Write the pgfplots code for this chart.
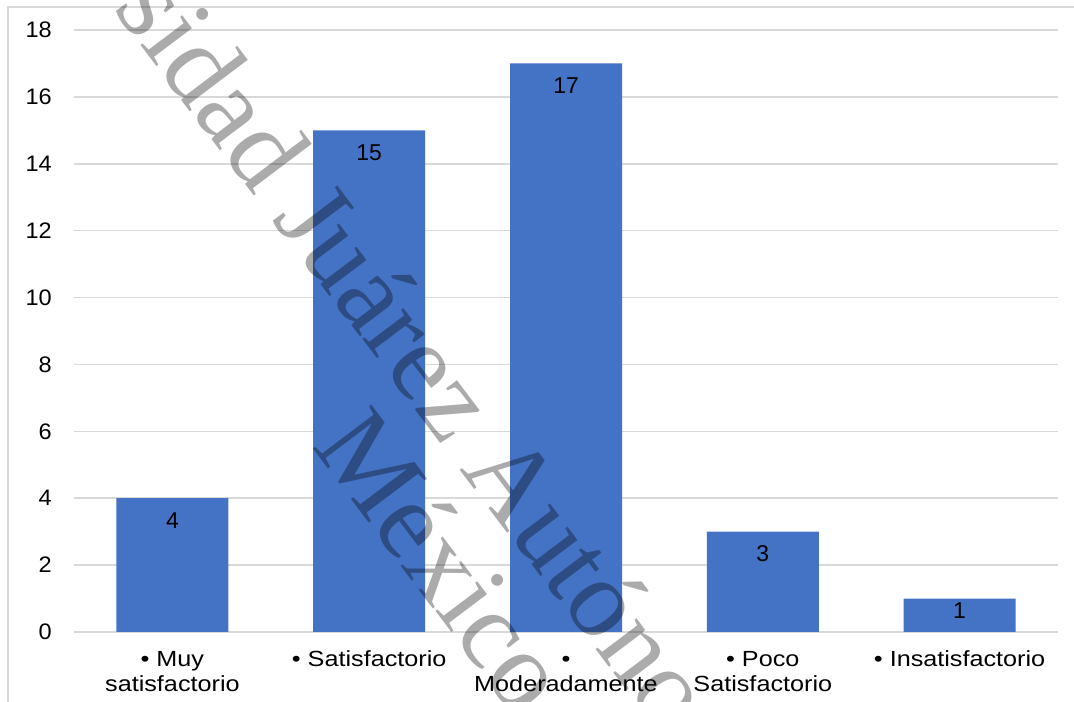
\documentclass[border=0pt]{standalone}
\usepackage{pgfplots}
\pgfplotsset{compat=1.18}
\usepackage{pgfplotstable}
\usepackage{fontspec}
\setmainfont{Liberation Sans}
\newfontfamily\catfont[FakeStretch=1.15]{Liberation Sans}
\newfontfamily\numfont[FakeStretch=1.05]{Liberation Sans}
\newfontfamily\wmfont{Liberation Serif}
\definecolor{barblue}{HTML}{4472C4}
\definecolor{gridgray}{HTML}{D9D9D9}
\pgfplotstableread{
x y s
0 4 22
1 15 22
2 17 22
3 3 22
4 1 12
}\datatable
\begin{document}
\begin{tikzpicture}[x=1bp,y=1bp]
\useasboundingbox (0,0) rectangle (1074,702);
\fill[white] (0,0) rectangle (1074,702);
\draw[gridgray, line width=1.5bp] (8,-5) -- (8,695) -- (1080,695);
\begin{axis}[
  at={(74bp,70bp)}, anchor=south west,
  scale only axis, width=984bp, height=602bp,
  xmin=-0.5, xmax=4.5, ymin=0, ymax=18,
  ytick={0,2,...,18},
  xtick={0,1,2,3,4},
  xticklabels={{\strut• Muy\\satisfactorio},{\strut• Satisfactorio},{\strut•\\Moderadamente},{\strut• Poco\\Satisfactorio},{\strut• Insatisfactorio}},
  axis line style={draw=none},
  major tick length=0pt,
  ymajorgrids,
  major grid style={gridgray, line width=1.5bp},
  /pgf/number format/assume math mode=true,
  xticklabel style={font=\catfont\fontsize{22}{25}\selectfont, text=black, align=center, anchor=north, inner sep=0pt, yshift=-16.5bp},
  yticklabel style={font=\numfont\fontsize{22.5}{25}\selectfont, text=black, anchor=east, inner sep=0pt, xshift=-22bp},
  ybar, bar width=0.569,
  clip=false,
]
\addplot[fill=barblue, draw=none,
  visualization depends on={\thisrow{s} \as \lblshift},
  nodes near coords,
  nodes near coords style={anchor=center, inner sep=0pt, yshift={-\lblshift*1bp}, font=\fontsize{23}{25}\selectfont, text=black},
] table[x=x, y=y] {\datatable};
\end{axis}
\node[text=black, text opacity=0.33, rotate=-53, anchor=base, inner sep=0pt,
  font=\wmfont\fontsize{112}{112}\selectfont] at (492.9,189.1) {Universidad Juárez Autónoma de Tabasco};
\node[text=black, text opacity=0.33, rotate=-53, anchor=base, inner sep=0pt,
  font=\wmfont\fontsize{112}{112}\selectfont] at (413.8,119.5) {México};
\end{tikzpicture}
\end{document}
